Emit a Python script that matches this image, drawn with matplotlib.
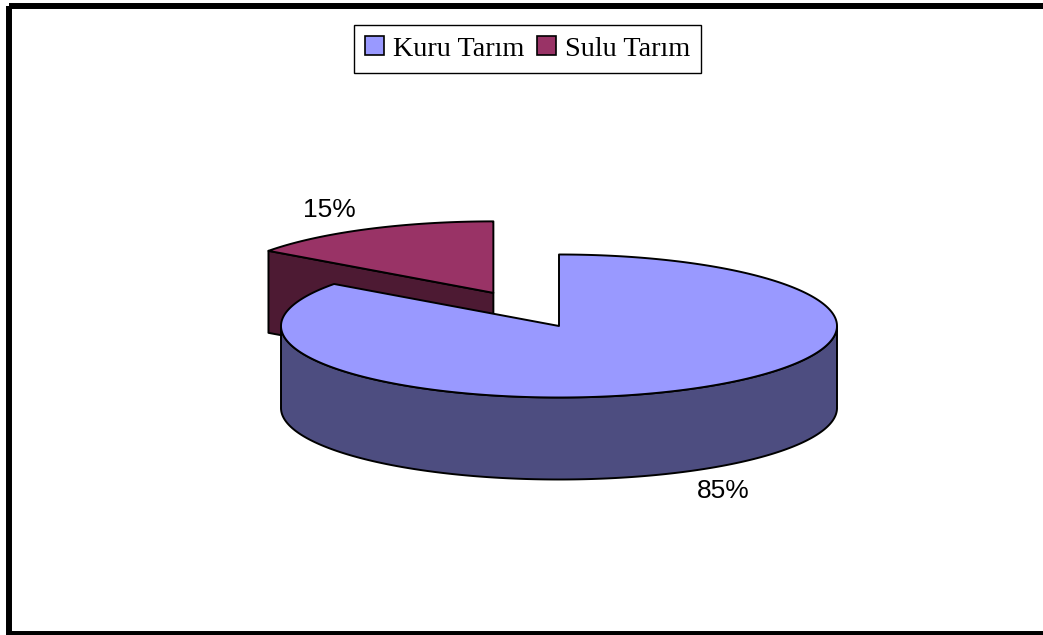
import numpy as np
import matplotlib
matplotlib.use('AGG')
from matplotlib import pyplot as plt
from matplotlib.patches import Polygon, Rectangle, Patch

labels = ['Kuru Tarım', 'Sulu Tarım']
shares = [85, 15]
top_colors = ['#9999FF', '#993366']
side_colors = ['#4D4D80', '#4D1A33']
explode = [0.0, 0.52]

# pie layout in pixel units
cx, cy = 559, 326
rx, ry = 278, 71.5
depth = 82


def rim(x0, y0, t):
    return x0 + rx * np.cos(t), y0 - ry * np.sin(t)


def slice_faces(ax, x0, y0, t0, t1, top, side):
    edge = dict(edgecolor='black', linewidth=1.4, joinstyle='round')
    # outer wall, only the part facing the viewer
    ts = np.linspace(t1, t0, 600)
    front = np.sin(ts) < 0
    runs = np.split(ts, np.where(np.diff(front.astype(int)) != 0)[0] + 1)
    for run in runs:
        if len(run) < 2 or np.sin(run.mean()) >= 0:
            continue
        xs, ys = rim(x0, y0, run)
        pts = np.concatenate([np.c_[xs, ys], np.c_[xs[::-1], ys[::-1] + depth]])
        ax.add_patch(Polygon(pts, closed=True, facecolor=side, **edge))
    # cut faces along the two radii
    for t, normal in ((t0, t0 + np.pi / 2), (t1, t1 - np.pi / 2)):
        if np.sin(normal) < -1e-6:
            xr, yr = rim(x0, y0, t)
            pts = [(x0, y0), (xr, yr), (xr, yr + depth), (x0, y0 + depth)]
            ax.add_patch(Polygon(pts, closed=True, facecolor=side, **edge))
    # top face
    xs, ys = rim(x0, y0, np.linspace(t0, t1, 600))
    pts = np.concatenate([[(x0, y0)], np.c_[xs, ys]])
    ax.add_patch(Polygon(pts, closed=True, facecolor=top, **edge))


fig = plt.figure(figsize=(10.43, 6.35), dpi=100)
ax = fig.add_axes([0, 0, 1, 1])
ax.set_xlim(0, 1043)
ax.set_ylim(635, 0)
ax.axis('off')

# slice angles, clockwise from 12 o'clock
bounds = []
start = np.pi / 2
for s in shares:
    end = start - 2 * np.pi * s / 100
    bounds.append((start, end))
    start = end

# back slices first so the front one covers them
order = sorted(range(len(shares)), key=lambda i: -np.sin(np.mean(bounds[i])))
for i in order:
    t0, t1 = bounds[i]
    mid = (t0 + t1) / 2
    x0 = cx + explode[i] * rx * np.cos(mid)
    y0 = cy - explode[i] * ry * np.sin(mid)
    slice_faces(ax, x0, y0, t0, t1, top_colors[i], side_colors[i])
    lx = x0 + 1.3 * rx * np.cos(mid)
    ly = y0 - 1.3 * ry * np.sin(mid) + (depth if np.sin(mid) < 0 else 0)
    ax.text(lx, ly, f'{shares[i]}%', ha='center', va='center',
            fontsize=19, family='Liberation Sans')

handles = [Patch(facecolor=c, edgecolor='black', linewidth=1.2) for c in top_colors]
leg = fig.legend(handles, labels, ncol=2, loc='center',
                 bbox_to_anchor=(527.5 / 1043, 1 - 49 / 635),
                 prop={'family': 'Liberation Serif', 'size': 20.3},
                 handlelength=0.67, handleheight=0.67, handletextpad=0.32,
                 columnspacing=0.43, borderpad=0.4, borderaxespad=0,
                 fancybox=False, framealpha=1, edgecolor='black')
leg.get_frame().set_linewidth(1.0)

# chart area border (right side runs off the canvas)
ax.add_patch(Rectangle((9, 6), 1100, 628, fill=False, edgecolor='black',
                       linewidth=4.3, clip_on=False))

fig.savefig('out.png')
